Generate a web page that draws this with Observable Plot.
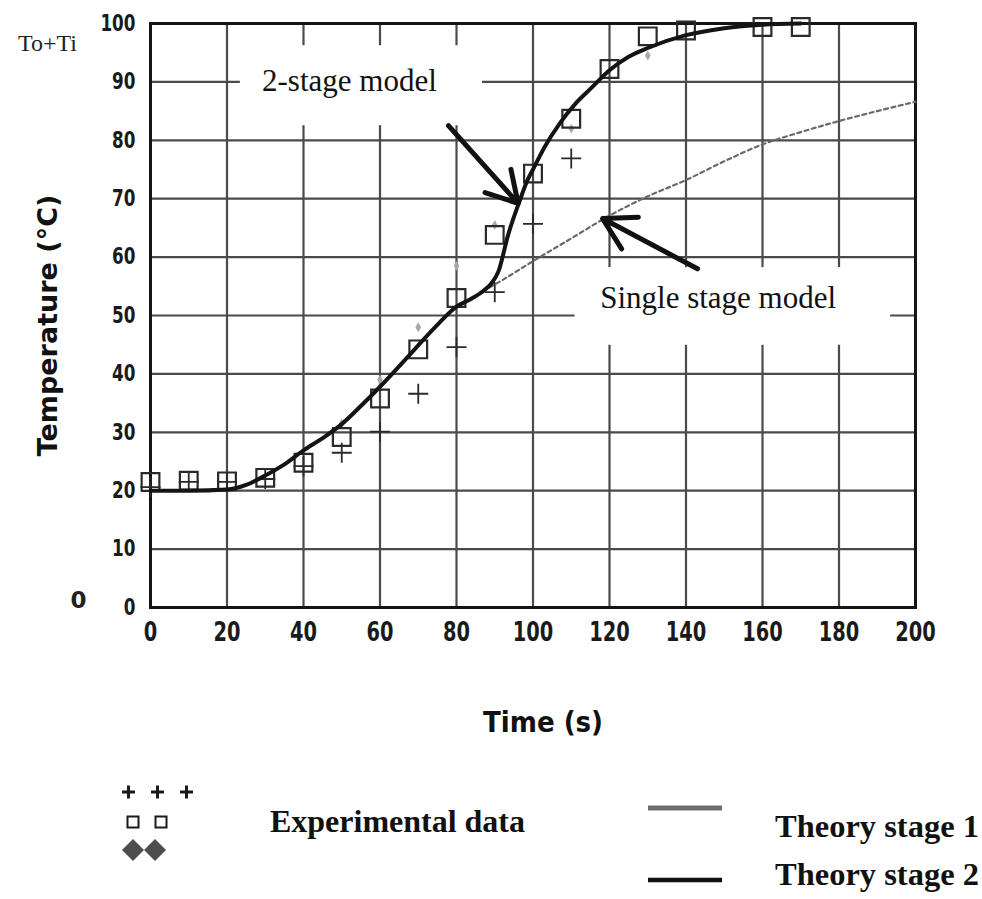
<!DOCTYPE html>
<html>
<head>
<meta charset="utf-8">
<script src="https://cdn.jsdelivr.net/npm/d3@7"></script>
<script src="https://cdn.jsdelivr.net/npm/@observablehq/plot@0.6"></script>
<style>
  body { margin: 0; background: #fff; }
  #wrap { width: 982px; height: 899px; overflow: hidden; background: #fff; }
  #legend { display: block; }
</style>
</head>
<body>
<div id="wrap">
  <div id="chart"></div>
  <svg id="legend" width="982" height="139" viewBox="0 0 982 139">
    <g fill="none" stroke="#1a1a1a" stroke-width="3">
      <path d="M122,32h13M128.5,25.5v13"/>
      <path d="M151,32h13M157.5,25.5v13"/>
      <path d="M180,32h13M186.5,25.5v13"/>
    </g>
    <g fill="none" stroke="#1a1a1a" stroke-width="2">
      <rect x="127.5" y="56.5" width="11" height="11"/>
      <rect x="155.5" y="56.5" width="11" height="11"/>
    </g>
    <g fill="#4d4d4d">
      <path d="M133,79l11,11l-11,11l-11,-11z"/>
      <path d="M155,79l11,11l-11,11l-11,-11z"/>
    </g>
    <text x="270" y="72" font-family="Liberation Serif, serif" font-weight="bold" font-size="32" textLength="255" lengthAdjust="spacingAndGlyphs" fill="#111">Experimental data</text>
    <line x1="648" x2="722" y1="48" y2="48" stroke="#6e6e6e" stroke-width="5"/>
    <line x1="648" x2="722" y1="120" y2="120" stroke="#111" stroke-width="4.5"/>
    <text x="775" y="77" font-family="Liberation Serif, serif" font-weight="bold" font-size="31" textLength="204" lengthAdjust="spacingAndGlyphs" fill="#111">Theory stage 1</text>
    <text x="775" y="125" font-family="Liberation Serif, serif" font-weight="bold" font-size="31" textLength="204" lengthAdjust="spacingAndGlyphs" fill="#111">Theory stage 2</text>
  </svg>
</div>
<script>
// Measured temperatures (°C) against time (s)
const squareTime = [0, 10, 20, 30, 40, 50, 60, 70, 80, 90, 100, 110, 120, 130, 140, 160, 170];
const squareTemp = [21.5, 21.7, 21.6, 22.2, 24.8, 29.2, 35.8, 44.2, 53.0, 63.8, 74.3, 83.7, 92.2, 97.8, 98.8, 99.4, 99.4];

const plusTime = [0, 10, 20, 30, 40, 50, 60, 70, 80, 90, 100, 110];
const plusTemp = [20.6, 21.5, 21.5, 22.0, 24.2, 26.5, 30.1, 36.6, 44.6, 54.0, 65.7, 76.9];

const diamondTime = [50, 60, 70, 80, 90, 110, 130];
const diamondTemp = [31.5, 39.0, 48.0, 58.5, 65.5, 82.0, 94.5];

// Two-stage model (solid) and single-stage model continuation (dotted)
const stage2Time = [0, 10, 20, 25, 30, 35, 40, 45, 50, 55, 60, 65, 70, 75, 80, 84, 87, 89, 91, 93.5, 96.5, 98.5, 100, 103, 107, 111, 115, 120, 125, 130, 140, 150, 160, 170];
const stage2Temp = [20, 20, 20.2, 21.0, 22.6, 24.5, 26.9, 29.0, 31.4, 34.5, 37.8, 41.3, 44.9, 48.4, 51.5, 52.9, 54.2, 55.4, 57.6, 63.8, 69.6, 73.1, 75.0, 78.8, 82.9, 86.2, 88.8, 92.0, 94.3, 95.8, 98.0, 99.2, 99.8, 100];

const stage1Time = [87, 90, 100, 110, 120, 130, 140, 150, 160, 170, 180, 190, 200];
const stage1Temp = [54.2, 55.3, 59.3, 63.2, 67.1, 70.4, 73.2, 76.4, 79.3, 81.4, 83.3, 85.0, 86.6];

// Axis ticks
const xTicks = [0, 20, 40, 60, 80, 100, 120, 140, 160, 180, 200];
const yTicks = [0, 10, 20, 30, 40, 50, 60, 70, 80, 90, 100];
const xGrid = [20, 40, 60, 80, 100, 120, 140, 160, 180];
const yGrid = [10, 20, 30, 40, 50, 60, 70, 80, 90];

// Annotations, in data units
const labelBoxes = [
  {x1: 23.5, x2: 86.8, y1: 82.5, y2: 96.2},
  {x1: 111, x2: 193.5, y1: 44.9, y2: 58.2}
];
const labels = [
  {x: 52, y: 90.2, text: "2-stage model"},
  {x: 148.4, y: 52.9, text: "Single stage model"}
];
const arrows = [
  {x1: 77.9, y1: 82.5, x2: 96.1, y2: 69.2},
  {x1: 143.0, y1: 58.0, x2: 118.2, y2: 66.6}
];

const squares = squareTime.map((t, i) => ({t, v: squareTemp[i]}));
const pluses = plusTime.map((t, i) => ({t, v: plusTemp[i]}));
const diamonds = diamondTime.map((t, i) => ({t, v: diamondTemp[i]}));
const stage2 = stage2Time.map((t, i) => ({t, v: stage2Temp[i]}));
const stage1 = stage1Time.map((t, i) => ({t, v: stage1Temp[i]}));

const tickFont = "'DejaVu Sans', sans-serif";
const serif = "'Liberation Serif', serif";

const chart = Plot.plot({
  width: 982,
  height: 760,
  marginTop: 23,
  marginLeft: 150,
  marginRight: 67,
  marginBottom: 153,
  x: {domain: [0, 200]},
  y: {domain: [0, 100]},
  style: {background: "#fff", color: "#1a1a1a"},
  marks: [
    Plot.ruleX(xGrid, {stroke: "#4a4a4a", strokeWidth: 2.2}),
    Plot.ruleY(yGrid, {stroke: "#4a4a4a", strokeWidth: 2.2}),
    Plot.rect(labelBoxes, {x1: "x1", x2: "x2", y1: "y1", y2: "y2", fill: "#fff"}),
    Plot.frame({stroke: "#151515", strokeWidth: 3}),
    Plot.line(stage1, {x: "t", y: "v", stroke: "#6a6a6a", strokeWidth: 2.2, strokeDasharray: "4,3.5", curve: "monotone-x"}),
    Plot.dot(diamonds, {x: "t", y: "v", symbol: "diamond", r: 3, fill: "#a8a8a8"}),
    Plot.dot(squares, {x: "t", y: "v", symbol: "square", r: 10, fill: "none", stroke: "#2a2a2a", strokeWidth: 2.2}),
    Plot.dot(pluses, {x: "t", y: "v", symbol: "plus", r: 6.5, stroke: "#2a2a2a", strokeWidth: 1.8}),
    Plot.line(stage2, {x: "t", y: "v", stroke: "#141414", strokeWidth: 4, curve: "monotone-x"}),
    Plot.arrow(arrows, {x1: "x1", y1: "y1", x2: "x2", y2: "y2", stroke: "#111", strokeWidth: 5, headLength: 12, inset: 0}),
    Plot.text(labels, {x: "x", y: "y", text: "text", fontFamily: serif, fontSize: 31, fill: "#111"}),
    Plot.axisX({ticks: xTicks, tickSize: 0, tickPadding: 14, fontSize: 27, fontWeight: "bold", fontFamily: tickFont, label: null}),
    Plot.axisY({ticks: yTicks, tickSize: 0, tickPadding: 15, fontSize: 23, fontWeight: "bold", fontFamily: tickFont, label: null}),
    Plot.text(["Temperature (°C)"], {text: d => d, frameAnchor: "left", dx: -102, dy: 10, rotate: -90, textAnchor: "middle", lineAnchor: "middle", fontSize: 27, fontWeight: "bold", fontFamily: "'DejaVu Sans', sans-serif", fill: "#111"}),
    Plot.text(["Time (s)"], {text: d => d, frameAnchor: "bottom", dx: 10, dy: 115, textAnchor: "middle", lineAnchor: "middle", fontSize: 29, fontWeight: "bold", fontFamily: "'DejaVu Sans Condensed', 'DejaVu Sans', sans-serif", fill: "#111"}),
    Plot.text(["To+Ti"], {text: d => d, frameAnchor: "top-left", dx: -103, dy: 20, textAnchor: "middle", lineAnchor: "middle", fontSize: 24, fontFamily: serif, fill: "#222"}),
    Plot.text(["0"], {text: d => d, frameAnchor: "bottom-left", dx: -72, dy: -7, textAnchor: "middle", lineAnchor: "middle", fontSize: 23, fontWeight: "bold", fontFamily: tickFont, fill: "#222"})
  ]
});

// Narrow the tick numerals to a condensed width
const narrow = (selector, perChar) => {
  chart.querySelectorAll(selector).forEach(t => {
    t.setAttribute("textLength", t.textContent.length * perChar);
    t.setAttribute("lengthAdjust", "spacingAndGlyphs");
  });
};
narrow('[aria-label="y-axis tick label"] text', 11.7);
narrow('[aria-label="x-axis tick label"] text', 13.5);

document.getElementById("chart").appendChild(chart);
</script>
</body>
</html>
